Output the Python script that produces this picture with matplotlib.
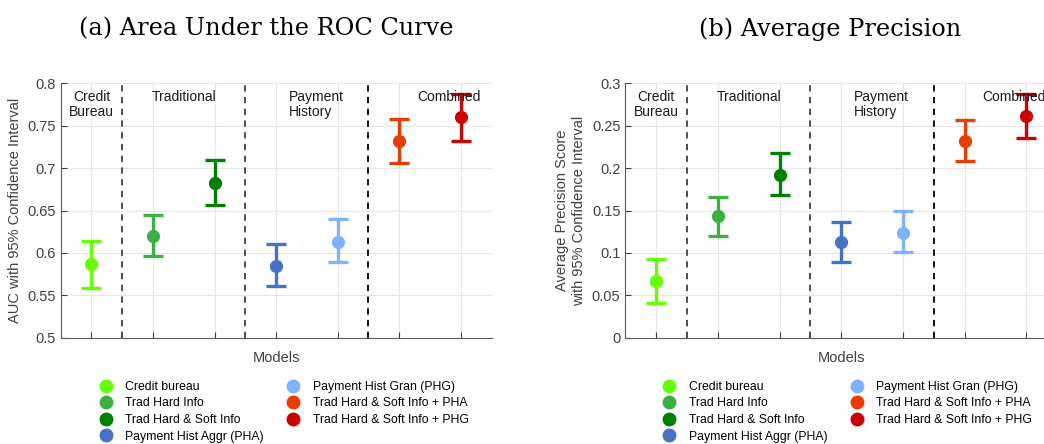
import numpy as np
import matplotlib.pyplot as plt
from matplotlib.lines import Line2D

# model names and colours
models = ['Credit bureau', 'Trad Hard Info', 'Trad Hard & Soft Info',
          'Payment Hist Aggr (PHA)', 'Payment Hist Gran (PHG)',
          'Trad Hard & Soft Info + PHA', 'Trad Hard & Soft Info + PHG']
colors = ['#66ff00', '#3cb043', '#007f00', '#4472c4', '#80b3ff', '#e83c00', '#cc0000']

# AUC estimates with 95% CI
auc = [0.587, 0.620, 0.683, 0.585, 0.613, 0.732, 0.760]
auc_lo = [0.559, 0.596, 0.657, 0.561, 0.589, 0.706, 0.732]
auc_hi = [0.614, 0.645, 0.710, 0.611, 0.640, 0.758, 0.787]

# average precision with 95% CI
ap = [0.067, 0.143, 0.192, 0.113, 0.124, 0.232, 0.261]
ap_lo = [0.041, 0.120, 0.168, 0.089, 0.101, 0.208, 0.236]
ap_hi = [0.093, 0.166, 0.218, 0.137, 0.150, 0.257, 0.287]

groups = ['Credit\nBureau', 'Traditional', 'Payment\nHistory', 'Combined']
group_x = [1.0, 2.5, 4.2, 6.8]
group_ha = ['center', 'center', 'left', 'center']
dividers = [1.5, 3.5, 5.5]
divider_colors = ['#404040', '#404040', '#000000']

tick_gray = '#404040'
fig = plt.figure(figsize=(10.44, 4.44), dpi=100)
plt.rcParams['font.family'] = ['Liberation Sans', 'DejaVu Sans']


def panel(ax, vals, lo, hi, ylim, yticks, ylabel):
    x = np.arange(1, len(vals) + 1)
    for i in range(len(vals)):
        ax.errorbar(x[i], vals[i], yerr=[[vals[i] - lo[i]], [hi[i] - vals[i]]],
                    fmt='o', color=colors[i], ms=8.5, elinewidth=2.4,
                    capsize=7, capthick=2.4, zorder=3)
    for d, c in zip(dividers, divider_colors):
        ax.axvline(d, color=c, ls=(0, (3.5, 3)), lw=1.3, zorder=2)
    for g, gx, ha in zip(groups, group_x, group_ha):
        ax.text(gx, ylim[1] - (ylim[1] - ylim[0]) * 0.025, g, ha=ha, va='top',
                fontsize=10, color='#1a1a1a', linespacing=1.15, zorder=4)
    ax.set_xlim(0.5, 7.5)
    ax.set_ylim(*ylim)
    ax.set_xticks(x)
    ax.set_xticklabels([])
    ax.set_yticks(yticks)
    ax.set_yticklabels([('%g' % t) for t in yticks])
    ax.tick_params(direction='in', length=4, colors=tick_gray, labelsize=10.5, width=0.8)
    ax.grid(True, color='#e6e6e6', lw=0.8, zorder=0)
    ax.set_axisbelow(True)
    for s in ['top', 'right']:
        ax.spines[s].set_visible(False)
    for s in ['left', 'bottom']:
        ax.spines[s].set_color('#5a5a5a')
        ax.spines[s].set_linewidth(0.8)
    ax.set_xlabel('Models', fontsize=10.5, color=tick_gray, labelpad=6)
    ax.set_ylabel(ylabel, fontsize=10.5, color=tick_gray, labelpad=4, linespacing=1.3)


ax1 = fig.add_axes([0.0581, 0.2394, 0.4128, 0.573])
ax2 = fig.add_axes([0.599, 0.2394, 0.4137, 0.573])

panel(ax1, auc, auc_lo, auc_hi, (0.5, 0.8), np.arange(0.5, 0.801, 0.05),
      'AUC with 95% Confidence Interval')
panel(ax2, ap, ap_lo, ap_hi, (0.0, 0.3), np.arange(0.0, 0.301, 0.05),
      'Average Precision Score\nwith 95% Confidence Interval')

handles = [Line2D([], [], ls='none', marker='o', ms=9, color=c) for c in colors]
for bx in [0.0943, 0.634]:
    fig.legend(handles, models, ncol=2, loc='upper left', bbox_to_anchor=(bx, 0.142),
               frameon=False, fontsize=8.8, labelspacing=0.37, handlelength=1.2,
               handletextpad=1.0, columnspacing=1.8, borderaxespad=0, borderpad=0)

fig.text(0.255, 0.935, '(a) Area Under the ROC Curve', ha='center', va='center',
         fontsize=17.3, family='DejaVu Serif')
fig.text(0.795, 0.935, '(b) Average Precision', ha='center', va='center',
         fontsize=17.3, family='DejaVu Serif')

fig.savefig('out.png', dpi=100)
